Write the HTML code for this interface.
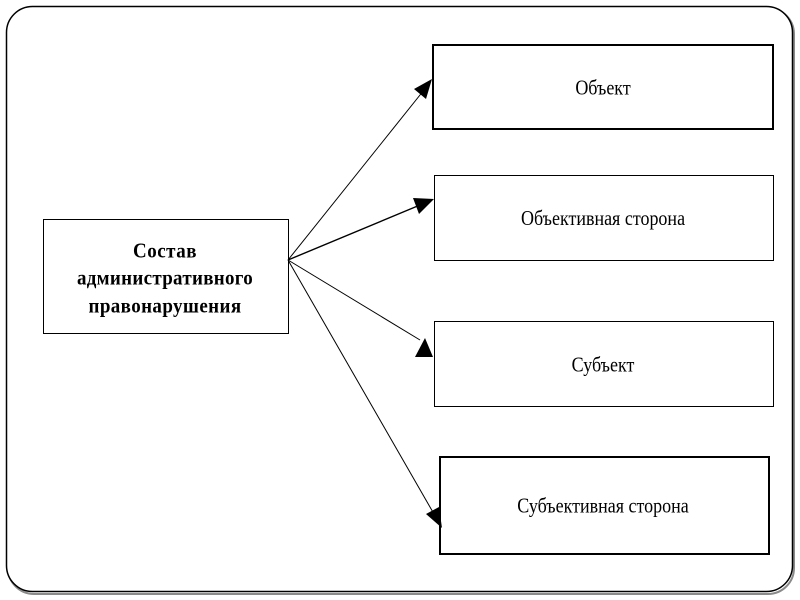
<!DOCTYPE html>
<html>
<head>
<meta charset="utf-8">
<style>
html,body{margin:0;padding:0;background:#fff;}
svg{display:block;}
text{font-family:"Liberation Serif","DejaVu Serif",serif;fill:#000;}
</style>
</head>
<body>
<svg width="800" height="600" viewBox="0 0 800 600" xmlns="http://www.w3.org/2000/svg">
  <rect x="0" y="0" width="800" height="600" fill="#fff"/>
  <!-- frame shadow -->
  <rect x="8" y="8" width="786" height="586" rx="26" ry="26" fill="none" stroke="#8a8a8a" stroke-width="2"/>
  <!-- frame -->
  <rect x="6.5" y="6.5" width="786" height="585" rx="26" ry="26" fill="#fff" stroke="#000" stroke-width="1.5"/>

  <!-- left box -->
  <rect x="43.5" y="219.5" width="245" height="114" fill="#fff" stroke="#000" stroke-width="1"/>
  <text transform="translate(165,257.5) scale(1,1.12)" font-size="19" font-weight="bold" text-anchor="middle" letter-spacing="0.5">Состав</text>
  <text transform="translate(165,284.5) scale(1,1.12)" font-size="19" font-weight="bold" text-anchor="middle" letter-spacing="0.3">административного</text>
  <text transform="translate(165,312.5) scale(1,1.12)" font-size="19" font-weight="bold" text-anchor="middle" letter-spacing="0.4">правонарушения</text>

  <!-- right boxes -->
  <rect x="433" y="45" width="340" height="84" fill="#fff" stroke="#000" stroke-width="2"/>
  <text transform="translate(603,94.5) scale(1,1.2)" font-size="18" text-anchor="middle">Объект</text>

  <rect x="434.5" y="175.5" width="339" height="85" fill="#fff" stroke="#000" stroke-width="1"/>
  <text transform="translate(603,225) scale(1,1.2)" font-size="18" text-anchor="middle">Объективная сторона</text>

  <rect x="434.5" y="321.5" width="339" height="85" fill="#fff" stroke="#000" stroke-width="1"/>
  <text transform="translate(603,371.5) scale(1,1.2)" font-size="18" text-anchor="middle">Субъект</text>

  <rect x="440" y="457" width="329" height="97" fill="#fff" stroke="#000" stroke-width="2"/>
  <text transform="translate(603,512.5) scale(1,1.2)" font-size="18" text-anchor="middle">Субъективная сторона</text>

  <!-- connectors -->
  <g stroke="#000" stroke-width="1" fill="none">
    <line x1="288" y1="260" x2="424" y2="90"/>
    <line x1="288" y1="260" x2="420" y2="205" stroke-width="1.4"/>
    <line x1="288" y1="260" x2="420" y2="340"/>
    <line x1="288" y1="260" x2="434" y2="514"/>
  </g>
  <g fill="#000" stroke="none">
    <polygon points="432,79 426,99 414,89"/>
    <polygon points="434,199 419,214 413,198"/>
    <polygon points="415,357 433,357 425,338"/>
    <polygon points="442,528 439,507 426,514"/>
  </g>
</svg>
</body>
</html>
